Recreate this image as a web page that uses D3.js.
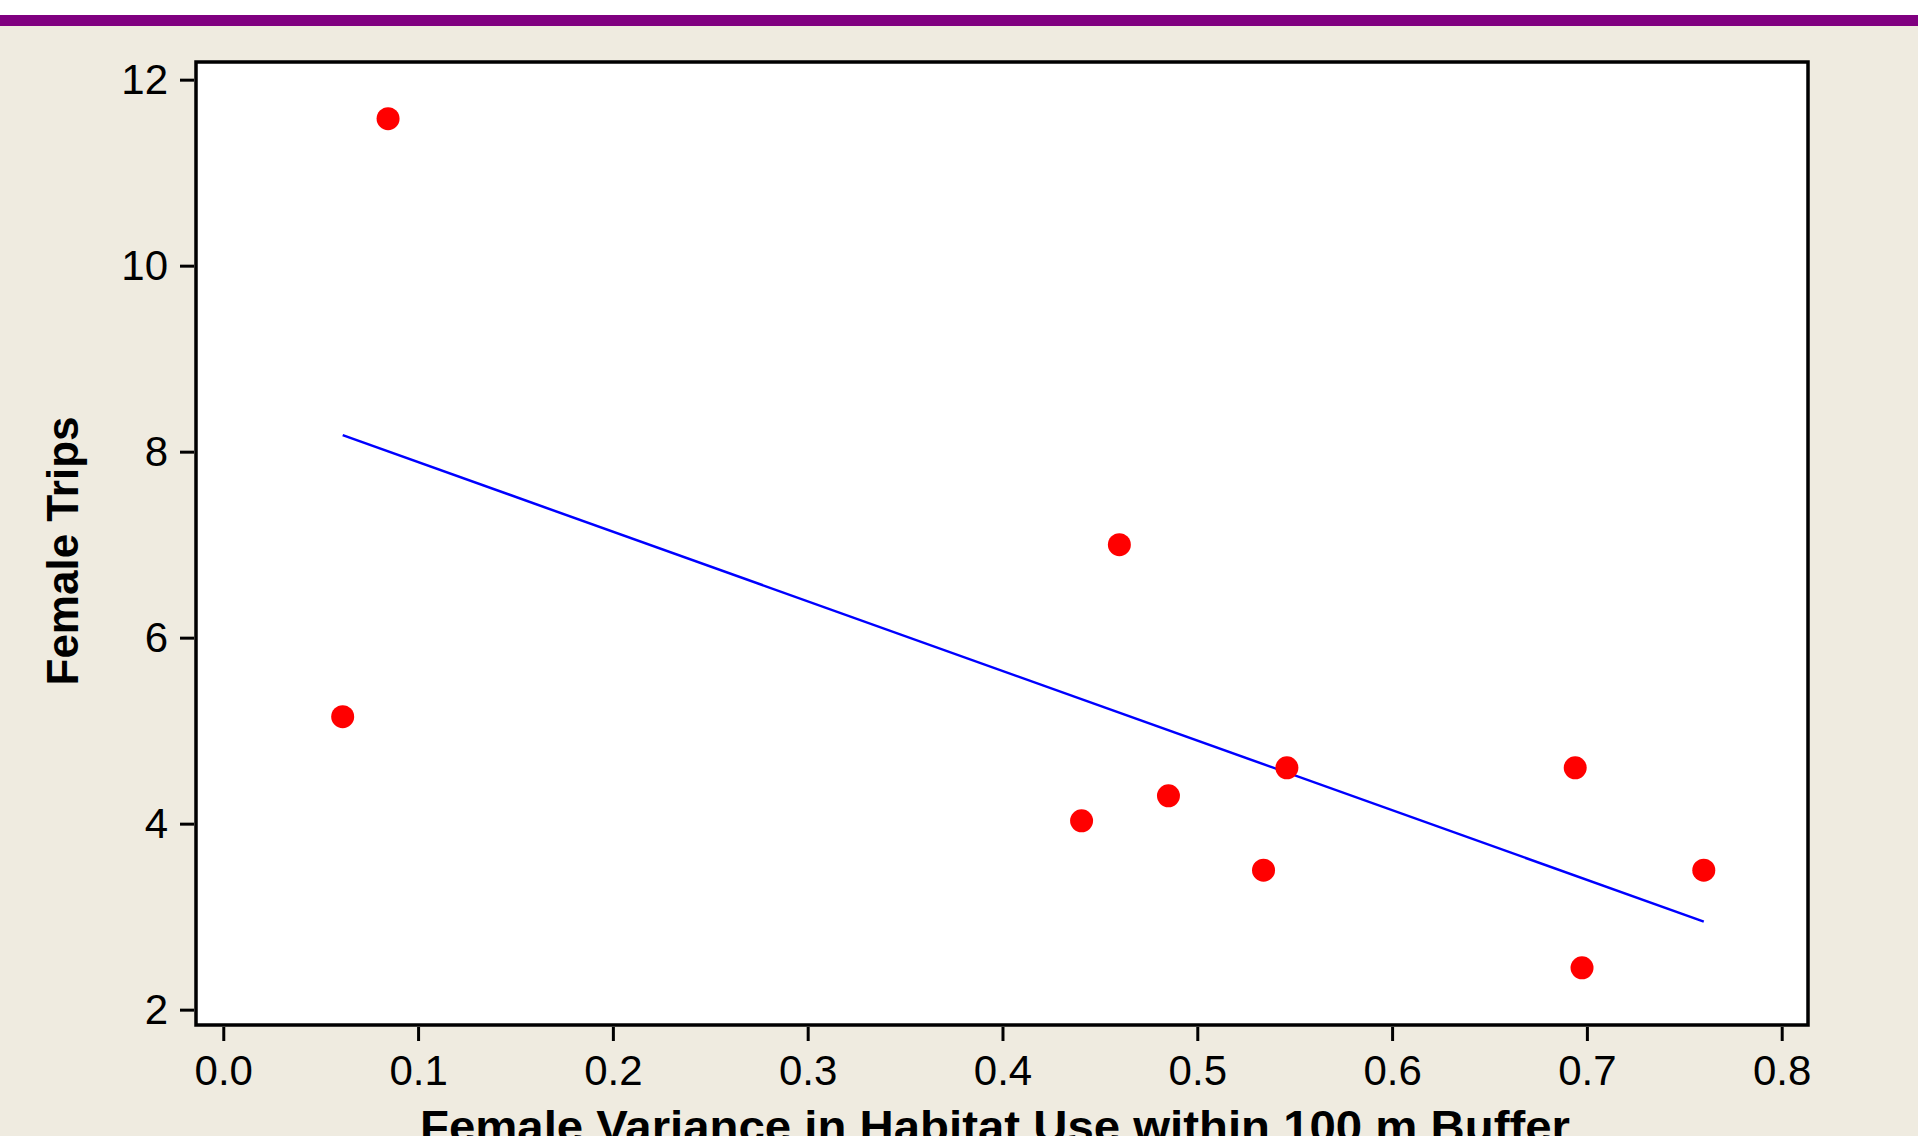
<!DOCTYPE html>
<html>
<head>
<meta charset="utf-8">
<script src="https://cdn.jsdelivr.net/npm/d3@7"></script>
<style>
  body { margin: 0; background: #efebe0; overflow: hidden; }
  text { font-family: "Liberation Sans", Arial, sans-serif; fill: #000; }
</style>
</head>
<body>
<script>
// data
var variance = [0.0613, 0.0846, 0.4406, 0.460, 0.4852, 0.534, 0.546, 0.694, 0.6975, 0.760];
var trips    = [5.15, 11.58, 4.03, 7.0, 4.3, 3.5, 4.6, 4.6, 2.45, 3.5];
var xTicks = [0, 0.1, 0.2, 0.3, 0.4, 0.5, 0.6, 0.7, 0.8];
var yTicks = [2, 4, 6, 8, 10, 12];

var width = 1918,
    height = 1136;

var svg = d3.select("body").append("svg")
    .attr("width", width)
    .attr("height", height);

// top strip
svg.append("rect").attr("x", 0).attr("y", 0).attr("width", width).attr("height", 15).attr("fill", "#ffffff");
svg.append("rect").attr("x", 0).attr("y", 15).attr("width", width).attr("height", 11).attr("fill", "#800080");

var x = d3.scaleLinear().domain([-0.014, 0.8135]).range([196, 1808]);
var y = d3.scaleLinear().domain([1.835, 12.19]).range([1025, 62]);

// plot area
svg.append("rect")
    .attr("x", x.range()[0])
    .attr("y", y.range()[1])
    .attr("width", x.range()[1] - x.range()[0])
    .attr("height", y.range()[0] - y.range()[1])
    .attr("fill", "#ffffff");

// regression line (least squares of the points)
var mx = d3.mean(variance), my = d3.mean(trips);
var sxy = d3.sum(variance, function(v, i) { return (v - mx) * (trips[i] - my); });
var sxx = d3.sum(variance, function(v) { return (v - mx) * (v - mx); });
var slope = sxy / sxx, intercept = my - slope * mx;
var ext = d3.extent(variance);

svg.append("path")
    .datum(ext)
    .attr("d", d3.line()
        .x(function(d) { return x(d); })
        .y(function(d) { return y(intercept + slope * d); }))
    .attr("stroke", "#0000ff")
    .attr("stroke-width", 2.5)
    .attr("fill", "none");

// points
svg.append("g")
    .selectAll("circle")
    .data(variance)
    .enter()
    .append("circle")
    .attr("cx", function(d) { return x(d); })
    .attr("cy", function(d, i) { return y(trips[i]); })
    .attr("r", 11.5)
    .attr("fill", "#ff0000");

// frame
svg.append("rect")
    .attr("x", x.range()[0])
    .attr("y", y.range()[1])
    .attr("width", x.range()[1] - x.range()[0])
    .attr("height", y.range()[0] - y.range()[1])
    .attr("fill", "none")
    .attr("stroke", "#000")
    .attr("stroke-width", 3.5);

// y axis
var yAxis = svg.append("g")
    .attr("transform", "translate(" + (x.range()[0] - 2) + ",0)")
    .call(d3.axisLeft(y).tickValues(yTicks).tickFormat(d3.format("d")).tickSize(14).tickPadding(12));
yAxis.select(".domain").remove();
yAxis.selectAll("line").attr("stroke", "#000").attr("stroke-width", 3);
yAxis.selectAll("text").style("font-size", "42px").attr("font-family", null);

// x axis
var xAxis = svg.append("g")
    .attr("transform", "translate(0," + (y.range()[0] + 2) + ")")
    .call(d3.axisBottom(x).tickValues(xTicks).tickFormat(d3.format(".1f")).tickSize(14).tickPadding(14));
xAxis.select(".domain").remove();
xAxis.selectAll("line").attr("stroke", "#000").attr("stroke-width", 3);
xAxis.selectAll("text").style("font-size", "42px").attr("font-family", null);

// axis titles
svg.append("text")
    .attr("transform", "translate(78,551) rotate(-90)")
    .attr("text-anchor", "middle")
    .style("font-size", "44px")
    .style("font-weight", "bold")
    .text("Female Trips");

svg.append("text")
    .attr("x", 420)
    .attr("y", 1142)
    .attr("textLength", 1150)
    .attr("lengthAdjust", "spacingAndGlyphs")
    .style("font-size", "44px")
    .style("font-weight", "bold")
    .text("Female Variance in Habitat Use within 100 m Buffer");
</script>
</body>
</html>
